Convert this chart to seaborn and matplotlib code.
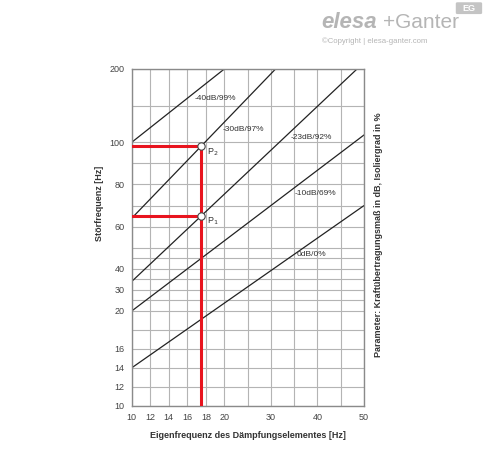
import numpy as np
import pandas as pd
import matplotlib
matplotlib.use("Agg")
import matplotlib.pyplot as plt
import seaborn as sns
from matplotlib.patches import FancyBboxPatch

# curve parameters (start / end points)
curve_labels = ['-40dB/99%', '-30dB/97%', '-23dB/92%', '-10dB/69%', '0dB/0%']
x_start = [10, 10, 10, 10, 10]
y_start = [100, 64, 34, 20, 14]
x_end = [20, 31, 48.5, 50, 50]
y_end = [200, 200, 200, 110, 70]

# label anchor for each curve
label_x = [19.0, 24.0, 38.6, 39.5, 38.8]
label_y = [160, 117, 107, 75.5, 47]

# operating points
p_names = ['P$_1$', 'P$_2$']
p_x = [17.5, 17.5]
p_y = [65, 98]

x_ticks = [10, 12, 14, 16, 18, 20, 30, 40, 50]
x_minor = [25, 35, 45]
y_ticks = [10, 12, 14, 16, 20, 30, 40, 60, 80, 100, 200]
y_minor = [18, 25, 35, 45, 50, 70, 90, 150]

# the chart uses piecewise linear axes
x_knots = [10, 20, 50]
x_pos = [0, 92.6, 232.3]
y_knots = [10, 20, 100, 200]
y_pos = [0, 94.7, 263.4, 336.7]


def pw(knots, pos):
    def fwd(v):
        return np.interp(v, knots, pos)

    def inv(v):
        return np.interp(v, pos, knots)
    return fwd, inv


sns.set_style('white')
plt.rcParams['font.family'] = ['Liberation Sans', 'DejaVu Sans']

fig = plt.figure(figsize=(4.88, 4.54), dpi=100)
ax = fig.add_axes([0.270, 0.1064, 0.476, 0.7417])
ax.set_xscale('function', functions=pw(x_knots, x_pos))
ax.set_yscale('function', functions=pw(y_knots, y_pos))
ax.set_xlim(10, 50)
ax.set_ylim(10, 200)

ax.set_xticks(x_ticks)
ax.set_xticklabels([str(t) for t in x_ticks])
ax.set_xticks(x_minor, minor=True)
ax.set_yticks(y_ticks)
ax.set_yticklabels([str(t) for t in y_ticks])
ax.set_yticks(y_minor, minor=True)
ax.grid(True, which='both', color='#b4b4b4', lw=0.8)
ax.set_axisbelow(True)
ax.tick_params(which='both', length=0, labelsize=6.5, labelcolor='#444', pad=5)
for s in ax.spines.values():
    s.set_color('#8a8a8a')
    s.set_linewidth(1)

rows = []
for i, name in enumerate(curve_labels):
    rows.append((name, x_start[i], y_start[i]))
    rows.append((name, x_end[i], y_end[i]))
df = pd.DataFrame(rows, columns=['curve', 'x', 'y'])
sns.lineplot(data=df, x='x', y='y', units='curve', estimator=None, sort=False,
             color='#222222', lw=0.9, ax=ax, legend=False)

for i, name in enumerate(curve_labels):
    ax.text(label_x[i], label_y[i], name, fontsize=6, color='#333',
            ha='center', va='center')

# red reading lines
red = '#e8141e'
ax.plot([p_x[0], p_x[0]], [10, p_y[1]], color=red, lw=2.2, zorder=3)
for xv, yv in zip(p_x, p_y):
    ax.plot([10, xv], [yv, yv], color=red, lw=2.2, zorder=3)

pts = pd.DataFrame({'x': p_x, 'y': p_y})
sns.scatterplot(data=pts, x='x', y='y', s=28, color='white', edgecolor='#444',
                linewidth=0.8, zorder=5, ax=ax)
for name, xv, yv in zip(p_names, p_x, p_y):
    ax.annotate(name, (xv, yv), xytext=(4, -4), textcoords='offset points',
                fontsize=6.5, color='#333', va='center')

ax.set_xlabel('Eigenfrequenz des Dämpfungselementes [Hz]', fontsize=6.5,
              fontweight='bold', color='#333')
ax.set_ylabel('Störfrequenz [Hz]', fontsize=6.5, fontweight='bold', color='#333')
ax.xaxis.set_label_coords(0.5, -0.075)
ax.yaxis.set_label_coords(-0.12, 0.60)

fig.text(0.775, 0.482, 'Parameter: Kraftübertragungsmaß in dB, Isoliergrad in %',
         rotation=90, fontsize=6.5, fontweight='bold', color='#333',
         ha='center', va='center')

# logo
fig.text(0.658, 0.950, 'elesa', fontsize=16, fontweight='bold', style='italic',
         color='#b5b5b5', ha='left', va='center')
fig.text(0.785, 0.950, '+Ganter', fontsize=15, color='#b5b5b5', ha='left', va='center')
fig.text(0.660, 0.910, '©Copyright | elesa-ganter.com', fontsize=5.6, color='#b5b5b5',
         ha='left', va='center')
fig.patches.append(FancyBboxPatch((0.937, 0.972), 0.048, 0.020,
                                  boxstyle='round,pad=0.003', transform=fig.transFigure,
                                  facecolor='#c4c4c4', edgecolor='none'))
fig.text(0.961, 0.982, 'EG', fontsize=6.5, fontweight='bold', color='white',
         ha='center', va='center')

fig.savefig('out.png', dpi=100)
